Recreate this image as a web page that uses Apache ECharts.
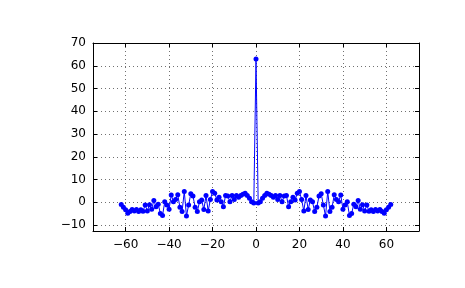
<!DOCTYPE html>
<html><head><meta charset="utf-8">
<script src="https://cdn.jsdelivr.net/npm/echarts@6/dist/echarts.min.js"></script>
<style>html,body{margin:0;padding:0;background:#fff}#c{width:465px;height:288px}</style>
</head><body><div id="c"></div>
<script>
const lags = [-62,-61,-60,-59,-58,-57,-56,-55,-54,-53,-52,-51,-50,-49,-48,-47,-46,-45,-44,-43,-42,-41,-40,-39,-38,-37,-36,-35,-34,-33,-32,-31,-30,-29,-28,-27,-26,-25,-24,-23,-22,-21,-20,-19,-18,-17,-16,-15,-14,-13,-12,-11,-10,-9,-8,-7,-6,-5,-4,-3,-2,-1,
  0,
  1,2,3,4,5,6,7,8,9,10,11,12,13,14,15,16,17,18,19,20,21,22,23,24,25,26,27,28,29,30,31,32,33,34,35,36,37,38,39,40,41,42,43,44,45,46,47,48,49,50,51,52,53,54,55,56,57,58,59,60,61,62];
const values = [-1,-2.2,-3.3,-4.8,-4,-3.2,-3.8,-3.1,-4,-3.3,-3.9,-1.2,-3.8,-1.1,-3,0.8,-2,-0.8,-4.9,-5.8,0.2,-1.2,-3,3.2,0.3,1.2,3.3,-2.2,-4,4.8,-6,-1.2,3.8,2.8,-2.2,-4,0.2,1,-3.2,3,-3.8,1.2,4.8,4,1,2.2,0.2,-2,3,2.8,0.3,3,1.2,3,2.2,3,3.6,4,3,1.8,0.2,-0.3,
  63,
  -0.3,0.2,1.8,3,4,3.6,3,2.2,3,1.2,3,0.3,2.8,3,-2,0.2,2.2,1,4,4.8,1.2,-3.8,3,-3.2,1,0.2,-4,-2.2,2.8,3.8,-1.2,-6,4.8,-4,-2.2,3.3,1.2,0.3,3.2,-3,-1.2,0.2,-5.8,-4.9,-0.8,-2,0.8,-3,-1.1,-3.8,-1.2,-3.9,-3.3,-4,-3.1,-3.8,-3.2,-4,-4.8,-3.3,-2.2,-1];
const xTicks = [-60,-40,-20,0,20,40,60];
const yTicks = [-10,0,10,20,30,40,50,60,70];

const fmt = v => String(v).replace('-', '\u2212');
const chart = echarts.init(document.getElementById('c'), null, {renderer:'canvas'});
const font = {fontFamily:'DejaVu Sans', fontSize:12, color:'#000'};
const gridLine = {show:true, lineStyle:{color:'#333', width:0.7, type:[1,3]}};
function xAx(pos, main){
  return {type:'value', position:pos, min:-75, max:75, interval:20,
    axisLine:{show:true, onZero:false, lineStyle:{color:'#000', width:1}},
    axisTick:{show:true, inside:true, length:4, customValues:xTicks, lineStyle:{color:'#000'}},
    axisLabel:{show:main, customValues:xTicks, formatter:fmt, margin:8, ...font},
    splitLine: main ? gridLine : {show:false}};
}
function yAx(pos, main){
  return {type:'value', position:pos, min:-12.6, max:70, interval:10,
    axisLine:{show:true, onZero:false, lineStyle:{color:'#000', width:1}},
    axisTick:{show:true, inside:true, length:4, customValues:yTicks, lineStyle:{color:'#000'}},
    axisLabel:{show:main, customValues:yTicks, formatter:fmt, margin:7, ...font},
    splitLine: main ? gridLine : {show:false}};
}
chart.setOption({
  animation:false,
  grid:{left:93, right:46, top:43, bottom:57, containLabel:false},
  xAxis:[xAx('bottom', true), xAx('top', false)],
  yAxis:[yAx('left', true), yAx('right', false)],
  series:[{type:'line', xAxisIndex:0, yAxisIndex:0,
    data: lags.map((l,i)=>[l, values[i]]),
    symbol:'circle', symbolSize:5, showSymbol:true, showAllSymbol:true,
    lineStyle:{color:'#0000ff', width:1}, itemStyle:{color:'#0000ff'}, z:5}]
});
</script></body></html>
